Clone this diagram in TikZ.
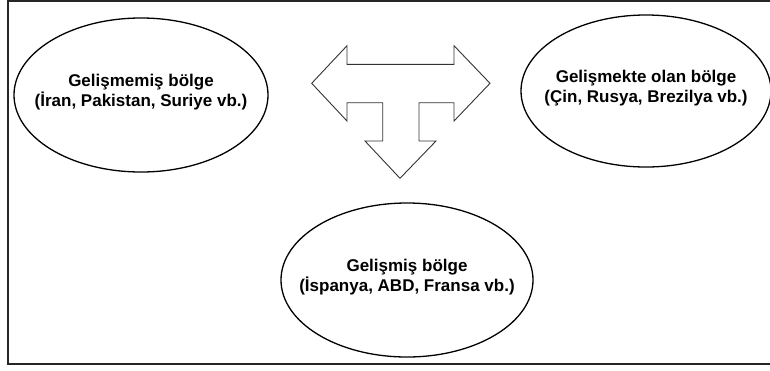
\documentclass[tikz,border=0pt]{standalone}
\usepackage{fontspec}
\setmainfont{Liberation Sans}
\usetikzlibrary{shapes.geometric}
\tikzset{
  region/.style={ellipse, draw=black, line width=1.3pt, inner sep=0pt},
  lbl/.style={font=\fontsize{17}{20}\selectfont\bfseries, align=center, inner sep=0pt},
  frameline/.style={draw=black!85, line width=2pt},
  tarrow/.style={draw=black!80, line width=0.9pt, fill=white, line join=miter}
}
\begin{document}
\begin{tikzpicture}[x=1pt,y=-1pt]
\useasboundingbox (0,0) rectangle (770,370);
\fill[white] (0,0) rectangle (770,370);
% frame (right side lies outside the picture)
\draw[frameline] (790,1) -- (7.5,1) -- (7.5,364) -- (790,364);
% ellipses
\node[region, minimum width=254pt, minimum height=154pt] (gm) at (141,95) {};
\node[region, minimum width=250pt, minimum height=152pt] (go) at (646,91) {};
\node[region, minimum width=252pt, minimum height=154pt] (gs) at (407,280) {};
% texts
\node[lbl] (tgm) at ([yshift=3pt]gm.center) {Gelişmemiş bölge\\(İran, Pakistan, Suriye vb.)};
\node[lbl] (tgo) at ([yshift=3pt]go.center) {Gelişmekte olan bölge\\(Çin, Rusya, Brezilya vb.)};
\node[lbl] (tgs) at ([yshift=3pt]gs.center) {Gelişmiş bölge\\(İspanya, ABD, Fransa vb.)};
% three-way block arrow
\draw[tarrow] (311.7,83.3) -- (347,45.7) -- (347,64.3) -- (454,64.3) -- (454,45.7)
  -- (490,83.3) -- (454,121) -- (454,102.7) -- (419,102.7) -- (419,141)
  -- (436,141) -- (400,178.3) -- (365,141) -- (382.7,141) -- (382.7,102.7)
  -- (347,102.7) -- (347,121) -- cycle;
\end{tikzpicture}
\end{document}
